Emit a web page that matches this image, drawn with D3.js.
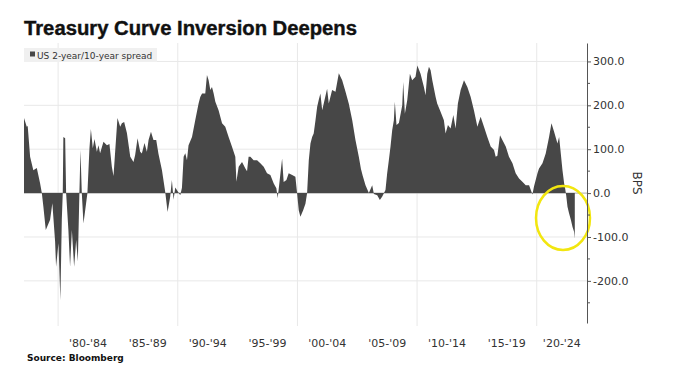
<!DOCTYPE html>
<html>
<head>
<meta charset="utf-8">
<script src="https://cdn.jsdelivr.net/npm/d3@7"></script>
<style>
  html, body { margin: 0; padding: 0; background: #fff; }
  svg { display: block; font-family: "DejaVu Sans", sans-serif; }
</style>
</head>
<body>
<svg id="chart"></svg>
<script>
// ===============================
// DATA (bps)
// ===============================
const obsTime = [
  1977.15,1977.38,1977.46,1977.66,1977.93,1978.22,1978.49,1978.64,1978.77,1978.97,
  1979.33,1979.52,1979.75,1979.83,1980.03,1980.19,1980.31,1980.39,1980.44,1980.59,
  1980.67,1980.86,1981.00,1981.15,1981.34,1981.51,1981.65,1981.78,1981.87,1981.98,
  1982.12,1982.34,1982.45,1982.62,1982.74,1982.90,1983.04,1983.24,1983.37,1983.51,
  1983.79,1984.08,1984.29,1984.49,1984.63,1984.96,1985.19,1985.33,1985.52,1985.75,
  1986.03,1986.30,1986.44,1986.64,1986.86,1987.00,1987.22,1987.42,1987.56,1987.76,
  1987.97,1988.20,1988.39,1988.68,1988.95,1989.15,1989.37,1989.51,1989.65,1989.79,
  1990.02,1990.21,1990.35,1990.49,1990.63,1990.77,1990.90,1991.19,1991.46,1991.74,
  1991.88,1992.03,1992.30,1992.44,1992.58,1992.72,1992.86,1993.00,1993.14,1993.41,
  1993.70,1993.97,1994.25,1994.54,1994.81,1994.90,1995.09,1995.37,1995.65,1995.79,
  1995.92,1996.07,1996.34,1996.63,1996.90,1997.18,1997.46,1997.74,1998.02,1998.24,
  1998.35,1998.52,1998.72,1998.85,1999.08,1999.27,1999.56,1999.83,1999.97,2000.11,
  2000.25,2000.48,2000.67,2000.81,2000.95,2001.09,2001.23,2001.36,2001.51,2001.65,
  2001.78,2001.92,2002.07,2002.20,2002.48,2002.62,2002.90,2003.18,2003.46,2003.74,
  2004.02,2004.29,2004.58,2004.85,2005.13,2005.31,2005.45,2005.69,2005.97,2006.25,
  2006.39,2006.67,2006.89,2007.09,2007.36,2007.50,2007.64,2007.78,2007.92,2008.06,
  2008.14,2008.28,2008.48,2008.76,2008.84,2008.98,2009.18,2009.40,2009.59,2009.87,
  2010.02,2010.29,2010.57,2010.71,2010.85,2010.99,2011.13,2011.27,2011.55,2011.68,
  2011.97,2012.24,2012.38,2012.58,2012.80,2013.03,2013.22,2013.41,2013.64,2013.92,
  2014.20,2014.48,2014.75,2015.04,2015.31,2015.59,2015.87,2016.15,2016.43,2016.57,
  2016.71,2016.93,2017.13,2017.41,2017.68,2017.97,2018.24,2018.52,2018.80,2019.08,
  2019.36,2019.64,2019.77,2020.06,2020.19,2020.48,2020.75,2021.03,2021.23,2021.45,
  2021.73,2021.87,2022.01,2022.15,2022.29,2022.37,2022.46,2022.57,2022.70,2022.85,
  2022.99,2023.12,2023.18
];

const spreadBps = [
  171,151,153,83,52,57,23,0,-31,-84,
  -61,-23,-111,-168,-114,-244,-60,0,128,125,
  0,-84,-168,-84,-168,-107,-156,0,98,0,
  -69,-23,0,102,146,102,123,94,109,91,
  117,109,112,60,39,171,151,159,162,137,
  83,71,87,125,94,90,114,94,121,140,
  121,121,89,52,3,-43,-8,30,-15,13,
  3,-5,12,83,91,75,109,128,166,204,
  219,227,227,269,257,235,242,227,208,189,
  159,151,128,105,83,26,60,71,56,50,
  83,83,75,75,68,60,45,41,22,11,
  -12,30,79,25,30,45,41,37,0,-39,
  -54,-39,-24,0,75,113,128,136,166,197,
  212,227,189,204,238,204,235,231,273,257,
  231,204,166,121,83,55,40,18,0,18,
  -2,-5,-16,-8,7,45,75,106,143,166,
  208,155,160,200,253,181,212,272,257,265,
  291,272,242,223,272,288,280,257,219,204,
  185,166,136,155,147,178,147,204,235,257,
  242,219,189,151,174,151,128,106,98,83,
  85,132,121,106,83,68,45,33,26,18,
  18,-3,15,45,56,68,90,128,159,140,
  113,128,90,52,22,11,-5,-31,-46,-61,
  -77,-88,-104
];

// tick values / labels
const yTicks = [-200, -100, 0, 100, 200, 300];
const yMinorTicks = [-250, -150, -50, 50, 150, 250];
const decadeLines = [1980, 1990, 2000, 2010, 2020];
const periodStarts = [1980, 1985, 1990, 1995, 2000, 2005, 2010, 2015, 2020];
const periodLabels = ["'80-'84", "'85-'89", "'90-'94", "'95-'99", "'00-'04",
                      "'05-'09", "'10-'14", "'15-'19", "'20-'24"];

const data = obsTime.map((t, i) => ({ t: t, v: spreadBps[i] }));

// ===============================
// CHART
// ===============================
const width = 675, height = 392;
const svg = d3.select("#chart").attr("width", width).attr("height", height);

const x = d3.scaleLinear().domain([1977.15, 2024.2]).range([24, 587]);
const y = d3.scaleLinear().domain([-296, 342]).range([323, 43]);

// --- gridlines ---
const grid = svg.append("g");
grid.selectAll(".hgrid")
  .data(yTicks.filter(d => d !== 0))
  .join("line")
  .attr("x1", 24).attr("x2", 587)
  .attr("y1", d => y(d)).attr("y2", d => y(d))
  .attr("stroke", "#e8e8e8");

grid.selectAll(".vgrid")
  .data(decadeLines)
  .join("line")
  .attr("x1", d => x(d)).attr("x2", d => x(d))
  .attr("y1", 43).attr("y2", 326)
  .attr("stroke", "#e8e8e8");

// --- legend ---
const legend = svg.append("g");
legend.append("rect")
  .attr("x", 24).attr("y", 48).attr("width", 133).attr("height", 14)
  .attr("fill", "#f0f0f0");
legend.append("rect")
  .attr("x", 30).attr("y", 51.5).attr("width", 5).attr("height", 5)
  .attr("fill", "#474747");
legend.append("text")
  .attr("x", 37).attr("y", 58.5)
  .attr("fill", "#333")
  .style("font-size", "9px")
  .text("US 2-year/10-year spread");

// --- zero line + area ---
svg.append("line")
  .attr("x1", 24).attr("x2", 587)
  .attr("y1", y(0)).attr("y2", y(0))
  .attr("stroke", "#aaa");

const area = d3.area()
  .x(d => x(d.t))
  .y0(y(0))
  .y1(d => y(d.v));

svg.append("path")
  .datum(data)
  .attr("fill", "#474747")
  .attr("d", area);

// --- highlight circle ---
svg.append("ellipse")
  .attr("cx", 563).attr("cy", 218)
  .attr("rx", 27).attr("ry", 32)
  .attr("fill", "none")
  .attr("stroke", "#f2e60f")
  .attr("stroke-width", 2.5);

// --- y axis (right) ---
const yAxis = svg.append("g")
  .attr("transform", "translate(587,0)")
  .call(d3.axisRight(y)
    .tickValues(yTicks)
    .tickFormat(d => d.toFixed(1))
    .tickSize(4)
    .tickSizeOuter(0)
    .tickPadding(2));
yAxis.select(".domain").attr("stroke", "#555");
yAxis.selectAll(".tick line").attr("stroke", "#555");
yAxis.selectAll(".tick text")
  .attr("fill", "#333")
  .style("font-size", "11px")
  .style("font-family", "'DejaVu Sans', sans-serif");

svg.append("g")
  .selectAll("line")
  .data(yMinorTicks)
  .join("line")
  .attr("x1", 587).attr("x2", 590)
  .attr("y1", d => y(d)).attr("y2", d => y(d))
  .attr("stroke", "#555");

svg.append("text")
  .attr("transform", "translate(633,183) rotate(90)")
  .attr("text-anchor", "middle")
  .attr("fill", "#333")
  .style("font-size", "12px")
  .text("BPS");

// --- period labels (centered over visible part of each 5-year span) ---
const [x0, x1] = x.domain();
svg.append("g")
  .selectAll("text")
  .data(periodStarts)
  .join("text")
  .attr("x", d => x((Math.max(d, x0) + Math.min(d + 5, x1)) / 2))
  .attr("y", 347)
  .attr("text-anchor", "middle")
  .attr("fill", "#333")
  .style("font-size", "11px")
  .text((d, i) => periodLabels[i]);

// --- title + source ---
svg.append("text")
  .attr("x", 24).attr("y", 35)
  .style("font-family", "'Liberation Sans', Arial, sans-serif")
  .style("font-size", "20px")
  .style("font-weight", "700")
  .attr("fill", "#111")
  .attr("stroke", "#111")
  .attr("stroke-width", 0.4)
  .attr("textLength", 333)
  .attr("lengthAdjust", "spacingAndGlyphs")
  .text("Treasury Curve Inversion Deepens");

svg.append("text")
  .attr("x", 27).attr("y", 361)
  .style("font-size", "9px")
  .style("font-weight", "700")
  .attr("fill", "#111")
  .text("Source: Bloomberg");
</script>
</body>
</html>
